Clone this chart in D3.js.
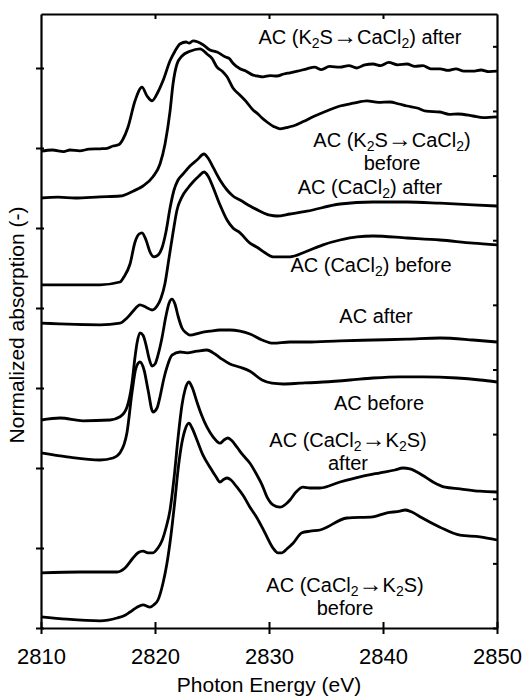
<!DOCTYPE html>
<html>
<head>
<meta charset="utf-8">
<script src="https://cdn.jsdelivr.net/npm/d3@7"></script>
<style>
  body { margin: 0; background: #fff; }
  svg text { font-family: "Liberation Sans", Arial, sans-serif; fill: #000; }
</style>
</head>
<body>
<svg id="chart" width="524" height="700"></svg>
<script>
// spectra: [photon energy (eV), normalized absorption (offset)]
const k2sCacl2After = [
  [2810, 5.96], [2811, 5.975], [2812, 5.955], [2812.54, 5.975], [2813.4, 5.965], [2814.2, 5.985], [2815.18, 5.99],
  [2815.8, 5.995], [2816.32, 6.025], [2816.8, 6.04], [2817.19, 6.11], [2817.63, 6.26], [2818.25, 6.59], [2818.86, 6.76],
  [2819.3, 6.65], [2819.74, 6.59], [2820.26, 6.7], [2820.7, 6.84], [2821.32, 7.09], [2821.75, 7.21],
  [2822.19, 7.3], [2822.72, 7.325], [2823.0, 7.31], [2823.33, 7.34], [2823.77, 7.325], [2824.21, 7.29],
  [2824.82, 7.225], [2825.44, 7.2], [2826.14, 7.14], [2826.5, 7.12], [2826.84, 7.06], [2827.46, 6.99],
  [2828.0, 6.96], [2828.6, 6.91], [2829.0, 6.9], [2829.47, 6.89], [2830.1, 6.905], [2830.7, 6.9], [2831.3, 6.925],
  [2831.84, 6.94], [2832.5, 6.96], [2833.33, 6.99], [2834, 7.01], [2834.6, 6.98], [2835.3, 7.02], [2836.23, 7.01],
  [2837, 7.03], [2837.7, 7.0], [2838.4, 7.04], [2839.12, 7.05], [2839.8, 7.03], [2840.5, 7.07], [2841.3, 7.04],
  [2842.11, 7.05], [2842.8, 7.02], [2843.5, 7.03], [2844.2, 6.99], [2845, 6.99], [2845.7, 6.97], [2846.4, 6.99],
  [2847.1, 6.96], [2847.89, 6.96], [2848.6, 6.975], [2849.3, 6.955], [2850, 6.96]
];
const k2sCacl2Before = [
  [2810, 5.375], [2811.5, 5.385], [2813, 5.375], [2815.18, 5.39], [2816.93, 5.4], [2818.07, 5.46], [2818.95, 5.525],
  [2819.82, 5.64], [2820.44, 5.8], [2820.88, 6.05], [2821.32, 6.46], [2821.58, 6.8], [2821.93, 7.05],
  [2822.37, 7.15], [2823.07, 7.21], [2823.95, 7.24], [2824.56, 7.175], [2825.0, 7.12], [2825.44, 7.01],
  [2825.9, 6.96], [2826.32, 6.89], [2826.84, 6.75], [2827.46, 6.66], [2828.0, 6.58], [2828.6, 6.475], [2829.0, 6.43],
  [2829.39, 6.375], [2829.82, 6.325], [2830.4, 6.27], [2830.96, 6.24], [2831.5, 6.255], [2832.11, 6.275], [2833.0, 6.33],
  [2833.86, 6.39], [2835.0, 6.46], [2836.23, 6.525], [2837.4, 6.56], [2838.6, 6.59], [2839.6, 6.57], [2840.61, 6.575],
  [2841.4, 6.55], [2842.11, 6.525], [2843.0, 6.5], [2843.8, 6.46], [2845, 6.45], [2845.8, 6.42], [2846.6, 6.425],
  [2847.89, 6.4], [2848.8, 6.38], [2850, 6.39]
];
const cacl2After = [
  [2810, 4.29], [2815.18, 4.29], [2816.93, 4.325], [2817.28, 4.39], [2817.81, 4.55], [2818.25, 4.825],
  [2818.6, 4.925], [2818.86, 4.94], [2819.21, 4.85], [2819.56, 4.7], [2819.91, 4.64], [2820.26, 4.66],
  [2820.61, 4.75], [2820.96, 4.95], [2821.32, 5.25], [2821.67, 5.475], [2822.02, 5.6], [2822.46, 5.675],
  [2823.07, 5.775], [2823.68, 5.85], [2824.3, 5.925], [2824.65, 5.875], [2825.09, 5.76], [2825.7, 5.6],
  [2826.32, 5.475], [2826.84, 5.4], [2827.46, 5.35], [2828.33, 5.275], [2829.21, 5.21], [2830.09, 5.16],
  [2830.7, 5.15], [2831.84, 5.175], [2833.33, 5.21], [2836.23, 5.3], [2839.12, 5.325], [2842.11, 5.325],
  [2845, 5.31], [2847.89, 5.29], [2850, 5.275]
];
const cacl2Before = [
  [2810, 3.81], [2815.18, 3.79], [2816.93, 3.81], [2817.54, 3.875], [2818.07, 3.96], [2818.68, 4.04],
  [2819.21, 4.01], [2819.74, 3.975], [2820.18, 4.025], [2820.53, 4.125], [2820.88, 4.31], [2821.23, 4.625],
  [2821.58, 4.94], [2821.93, 5.225], [2822.37, 5.39], [2822.89, 5.5], [2823.33, 5.575], [2823.86, 5.65],
  [2824.3, 5.7], [2824.65, 5.65], [2825.09, 5.51], [2825.7, 5.29], [2826.32, 5.1], [2826.84, 5.0],
  [2827.46, 4.94], [2828.33, 4.81], [2828.95, 4.76], [2829.65, 4.69], [2830.35, 4.64], [2831.84, 4.64],
  [2833.16, 4.7], [2834.74, 4.79], [2836.23, 4.85], [2837.72, 4.89], [2839.12, 4.9], [2842.11, 4.875],
  [2845, 4.85], [2847.89, 4.81], [2850, 4.79]
];
const acAfter = [
  [2810, 2.6], [2811.67, 2.625], [2813.68, 2.59], [2816.05, 2.6], [2816.93, 2.64], [2817.54, 2.76],
  [2817.98, 3.06], [2818.25, 3.39], [2818.42, 3.56], [2818.68, 3.69], [2818.95, 3.66], [2819.21, 3.54],
  [2819.47, 3.375], [2819.74, 3.275], [2820.0, 3.3], [2820.26, 3.41], [2820.61, 3.625], [2820.96, 3.9],
  [2821.23, 4.06], [2821.49, 4.11], [2821.75, 4.05], [2822.02, 3.9], [2822.37, 3.75], [2822.72, 3.69],
  [2823.07, 3.66], [2823.95, 3.69], [2824.82, 3.71], [2825.7, 3.725], [2826.58, 3.725], [2827.46, 3.71],
  [2828.33, 3.675], [2829.39, 3.6], [2830.35, 3.56], [2831.84, 3.575], [2833.33, 3.575], [2836.23, 3.59],
  [2839.12, 3.6], [2842.11, 3.61], [2845, 3.625], [2847.89, 3.6], [2850, 3.575]
];
const acBefore = [
  [2810, 2.19], [2812.28, 2.14], [2815.18, 2.1], [2816.32, 2.125], [2816.93, 2.19], [2817.54, 2.44],
  [2817.98, 2.94], [2818.33, 3.25], [2818.68, 3.325], [2819.04, 3.225], [2819.39, 2.975], [2819.82, 2.7],
  [2820.18, 2.75], [2820.44, 2.89], [2820.79, 3.125], [2821.05, 3.26], [2821.49, 3.41], [2822.19, 3.45],
  [2822.81, 3.44], [2823.68, 3.46], [2824.56, 3.475], [2825.26, 3.425], [2825.88, 3.36], [2826.58, 3.3],
  [2827.46, 3.26], [2828.33, 3.21], [2829.39, 3.1], [2830.26, 3.06], [2831.23, 3.05], [2832.72, 3.06],
  [2834.74, 3.075], [2837.11, 3.1], [2839.12, 3.125], [2841.49, 3.14], [2843.51, 3.14], [2846.49, 3.125],
  [2848.51, 3.1], [2850, 3.075]
];
const cacl2K2sAfter = [
  [2810, 0.69], [2813.42, 0.7], [2816.67, 0.7], [2817.37, 0.75], [2818.07, 0.875], [2818.51, 0.94],
  [2818.95, 0.96], [2819.39, 0.94], [2819.82, 0.94], [2820.26, 1.0], [2820.61, 1.09], [2820.96, 1.25],
  [2821.32, 1.475], [2821.67, 1.875], [2822.02, 2.375], [2822.37, 2.79], [2822.63, 2.975], [2822.98, 3.075],
  [2823.25, 3.01], [2823.68, 2.825], [2824.12, 2.65], [2824.56, 2.51], [2825.09, 2.39], [2825.7, 2.31],
  [2826.05, 2.35], [2826.4, 2.375], [2826.75, 2.34], [2827.19, 2.26], [2827.72, 2.16], [2828.33, 2.06],
  [2828.95, 1.91], [2829.39, 1.79], [2829.82, 1.64], [2830.35, 1.54], [2830.96, 1.51], [2831.49, 1.55],
  [2831.84, 1.6], [2832.37, 1.7], [2832.98, 1.76], [2833.6, 1.75], [2834.47, 1.75], [2836.23, 1.825],
  [2837.98, 1.89], [2839.74, 1.94], [2841.05, 1.975], [2841.75, 2.0], [2842.37, 1.99], [2842.98, 1.95],
  [2843.68, 1.89], [2844.39, 1.825], [2845.44, 1.76], [2846.75, 1.74], [2848.51, 1.71], [2850, 1.7]
];
const cacl2K2sBefore = [
  [2810, 0.14], [2812.28, 0.11], [2815.18, 0.09], [2816.67, 0.125], [2817.37, 0.16], [2817.81, 0.2],
  [2818.42, 0.26], [2818.95, 0.29], [2819.56, 0.26], [2819.91, 0.29], [2820.26, 0.35], [2820.7, 0.56],
  [2821.05, 0.81], [2821.4, 1.16], [2821.75, 1.6], [2822.02, 1.975], [2822.28, 2.25], [2822.63, 2.475],
  [2822.98, 2.56], [2823.25, 2.5], [2823.68, 2.35], [2824.21, 2.16], [2824.82, 2.01], [2825.35, 1.89],
  [2825.7, 1.825], [2826.05, 1.86], [2826.32, 1.875], [2826.67, 1.85], [2827.19, 1.76], [2827.72, 1.66],
  [2828.33, 1.51], [2828.95, 1.375], [2829.39, 1.26], [2829.82, 1.14], [2830.35, 1.0], [2830.79, 0.94],
  [2831.14, 0.94], [2831.58, 0.99], [2832.11, 1.06], [2832.89, 1.19], [2833.6, 1.21], [2834.47, 1.225],
  [2836.84, 1.375], [2839.12, 1.39], [2840.35, 1.44], [2841.49, 1.46], [2841.93, 1.475], [2842.54, 1.45],
  [2843.25, 1.39], [2845, 1.26], [2846.75, 1.16], [2848.51, 1.14], [2850, 1.1]
];

const spectra = [k2sCacl2After, k2sCacl2Before, cacl2After, cacl2Before,
  acAfter, acBefore, cacl2K2sAfter, cacl2K2sBefore];

// curve labels; "_2" marks a subscript, each entry is one line
const labelLines = [
  ['AC (K_2S→CaCl_2) after'],
  ['AC (K_2S→CaCl_2)', 'before'],
  ['AC (CaCl_2) after'],
  ['AC (CaCl_2) before'],
  ['AC after'],
  ['AC before'],
  ['AC (CaCl_2→K_2S)', 'after'],
  ['AC (CaCl_2→K_2S)', 'before']
];
// label anchor (energy, absorption) for the first line's baseline
const labelAnchors = [
  [2837.98, 7.3], [2840.79, 6.01], [2838.86, 5.425], [2838.95, 4.45],
  [2839.39, 3.81], [2839.65, 2.725], [2836.93, 2.26], [2836.67, 0.45]
];

const xTicks = [2810, 2820, 2830, 2840, 2850];
const leftTicks = [0, 1, 2, 3, 4, 5, 6, 7];
const rightTicks = [0, 1, 2, 3, 4, 5, 6, 7, 8, 9];

const margin = { top: 14, right: 27, bottom: 72, left: 41 };
const width = 524 - margin.left - margin.right;
const height = 700 - margin.top - margin.bottom;

const svg = d3.select('#chart');
const g = svg.append('g').attr('transform', `translate(${margin.left},${margin.top})`);

const x = d3.scaleLinear().domain([2810, 2850]).range([0, width]);
const y = d3.scaleLinear().domain([0, 7.675]).range([height, 0]);
const yRight = d3.scaleLinear().domain([0, 9.5]).range([height, 0]);

const line = d3.line()
  .x(d => x(d[0]))
  .y(d => y(d[1]))
  .curve(d3.curveMonotoneX);

g.selectAll('path.spectrum')
  .data(spectra)
  .join('path')
  .attr('class', 'spectrum')
  .attr('d', line)
  .attr('fill', 'none')
  .attr('stroke', '#000')
  .attr('stroke-width', 2.8)
  .attr('stroke-linejoin', 'round');

// axes
const bottomAxis = g.append('g')
  .attr('transform', `translate(0,${height})`)
  .call(d3.axisBottom(x).tickValues(xTicks).tickSizeInner(5).tickSizeOuter(0).tickPadding(15).tickFormat(d3.format('d')));
bottomAxis.selectAll('.tick line').attr('y1', -6).attr('y2', 6);

g.append('g')
  .call(d3.axisTop(x).tickValues([2820, 2830, 2840]).tickSizeInner(-5).tickSizeOuter(0).tickFormat(''));

const leftAxis = g.append('g')
  .call(d3.axisLeft(y).tickValues(leftTicks).tickSizeOuter(0).tickFormat(''));
leftAxis.selectAll('.tick line').attr('x1', 3).attr('x2', -5);

g.append('g')
  .attr('transform', `translate(${width},0)`)
  .call(d3.axisRight(yRight).tickValues(rightTicks).tickSizeInner(-4).tickSizeOuter(0).tickFormat(''));

g.selectAll('.domain').attr('stroke', '#000').attr('stroke-width', 2.2);
g.selectAll('.tick line').attr('stroke', '#000').attr('stroke-width', 2);
g.selectAll('.tick text').attr('font-size', 22).attr('font-family', '"Liberation Sans", Arial, sans-serif');

svg.append('text')
  .attr('x', margin.left + width / 2)
  .attr('y', 692)
  .attr('text-anchor', 'middle')
  .attr('font-size', 21)
  .text('Photon Energy (eV)');

svg.append('text')
  .attr('transform', `translate(24,${margin.top + 311}) rotate(-90)`)
  .attr('text-anchor', 'middle')
  .attr('font-size', 21)
  .text('Normalized absorption (-)');

// labels with subscripts and a slightly larger arrow glyph
function writeLine(textEl, str) {
  let shift = 0;
  str.split(/(_\d|→)/).forEach(part => {
    if (!part) return;
    const sub = part.startsWith('_');
    const target = sub ? 4 : 0;
    const ts = textEl.append('tspan').text(sub ? part.slice(1) : part);
    if (target !== shift) ts.attr('dy', target - shift);
    shift = target;
    if (sub) ts.attr('font-size', 14);
    if (part === '→') ts.attr('font-size', 24);
  });
}

labelLines.forEach((lines, i) => {
  const [e, v] = labelAnchors[i];
  lines.forEach((str, j) => {
    const t = g.append('text')
      .attr('x', x(e))
      .attr('y', y(v) + j * 23)
      .attr('text-anchor', 'middle')
      .attr('font-size', 20);
    writeLine(t, str);
  });
});
</script>
</body>
</html>
